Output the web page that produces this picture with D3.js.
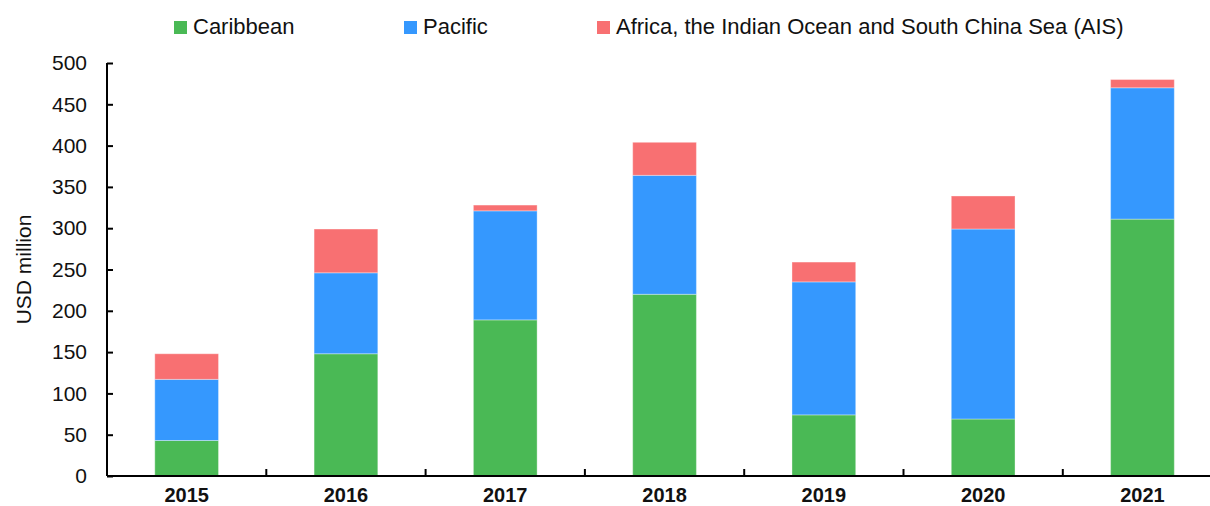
<!DOCTYPE html>
<html>
<head>
<meta charset="utf-8">
<script src="https://cdn.jsdelivr.net/npm/d3@7"></script>
<style>
  html, body { margin: 0; padding: 0; background: #fff; }
  svg { display: block; }
  text { font-family: "Liberation Sans", Arial, sans-serif; fill: #111; }
</style>
</head>
<body>
<svg id="chart" width="1210" height="506"></svg>
<script>
const years = ["2015", "2016", "2017", "2018", "2019", "2020", "2021"];
const caribbean = [43, 148, 189, 220, 74, 69, 311];
const pacific = [74, 98, 132, 144, 161, 230, 159];
const ais = [31, 53, 7, 40, 24, 40, 10];
const seriesNames = ["Caribbean", "Pacific", "Africa, the Indian Ocean and South China Sea (AIS)"];
const seriesColors = ["#4ab955", "#3598fe", "#f87072"];
const yTicks = [0, 50, 100, 150, 200, 250, 300, 350, 400, 450, 500];

const svg = d3.select("#chart");
const x0 = 107, yBottom = 476, yTop = 63;
const step = 159.3;

const x = d3.scaleBand().domain(years)
  .range([x0, x0 + step * years.length])
  .paddingInner(0.6).paddingOuter(0.3);
const y = d3.scaleLinear().domain([0, 500]).range([yBottom, yTop]);

const rows = years.map((yr, i) => ({ year: yr, c: caribbean[i], p: pacific[i], a: ais[i] }));
const stacked = d3.stack().keys(["c", "p", "a"])(rows);

svg.append("g").selectAll("g").data(stacked).join("g")
  .attr("fill", (d, i) => seriesColors[i])
  .selectAll("rect").data(d => d).join("rect")
  .attr("x", d => x(d.data.year))
  .attr("width", x.bandwidth())
  .attr("y", d => y(d[1]))
  .attr("height", d => y(d[0]) - y(d[1]))
  .attr("stroke", "rgba(255,255,255,0.35)")
  .attr("stroke-width", 1);

// Y axis
const yAxis = d3.axisLeft(y).tickValues(yTicks).tickSize(-6).tickPadding(24);
const gy = svg.append("g").attr("transform", `translate(${x0},0)`).call(yAxis);
gy.select(".domain").attr("stroke", "#000").attr("stroke-width", 2).attr("d", `M0,${yTop}V${yBottom}`);
gy.selectAll(".tick line").attr("stroke", "#000").attr("stroke-width", 2);
gy.selectAll(".tick text").attr("font-size", 21).attr("fill", "#111")
  .attr("font-family", "'Liberation Sans', Arial, sans-serif").attr("x", -20);

// X axis
const gx = svg.append("g").attr("transform", `translate(0,${yBottom})`);
gx.append("line").attr("x1", x0).attr("x2", 1210).attr("y1", 0).attr("y2", 0)
  .attr("stroke", "#000").attr("stroke-width", 2);
const boundaries = years.slice(1).map(yr => x(yr) - x.step() * x.paddingInner() / 2);
gx.selectAll("line.tk").data(boundaries).join("line").attr("class", "tk")
  .attr("x1", d => d).attr("x2", d => d).attr("y1", 0).attr("y2", -7)
  .attr("stroke", "#000").attr("stroke-width", 2);
gx.selectAll("text").data(years).join("text")
  .attr("x", d => x(d) + x.bandwidth() / 2)
  .attr("y", 25.5)
  .attr("text-anchor", "middle")
  .attr("font-weight", "bold")
  .attr("font-size", 20)
  .text(d => d);

// Y label
svg.append("text")
  .attr("transform", `translate(31,${(yTop + yBottom) / 2}) rotate(-90)`)
  .attr("text-anchor", "middle")
  .attr("font-size", 21)
  .text("USD million");

// Legend
const legendX = [174, 404, 597];
const lg = svg.append("g");
seriesNames.forEach((name, i) => {
  lg.append("rect").attr("x", legendX[i]).attr("y", 21).attr("width", 13).attr("height", 13)
    .attr("fill", seriesColors[i]);
  lg.append("text").attr("x", legendX[i] + 19).attr("y", 34)
    .attr("font-size", 22).text(name);
});
</script>
</body>
</html>
